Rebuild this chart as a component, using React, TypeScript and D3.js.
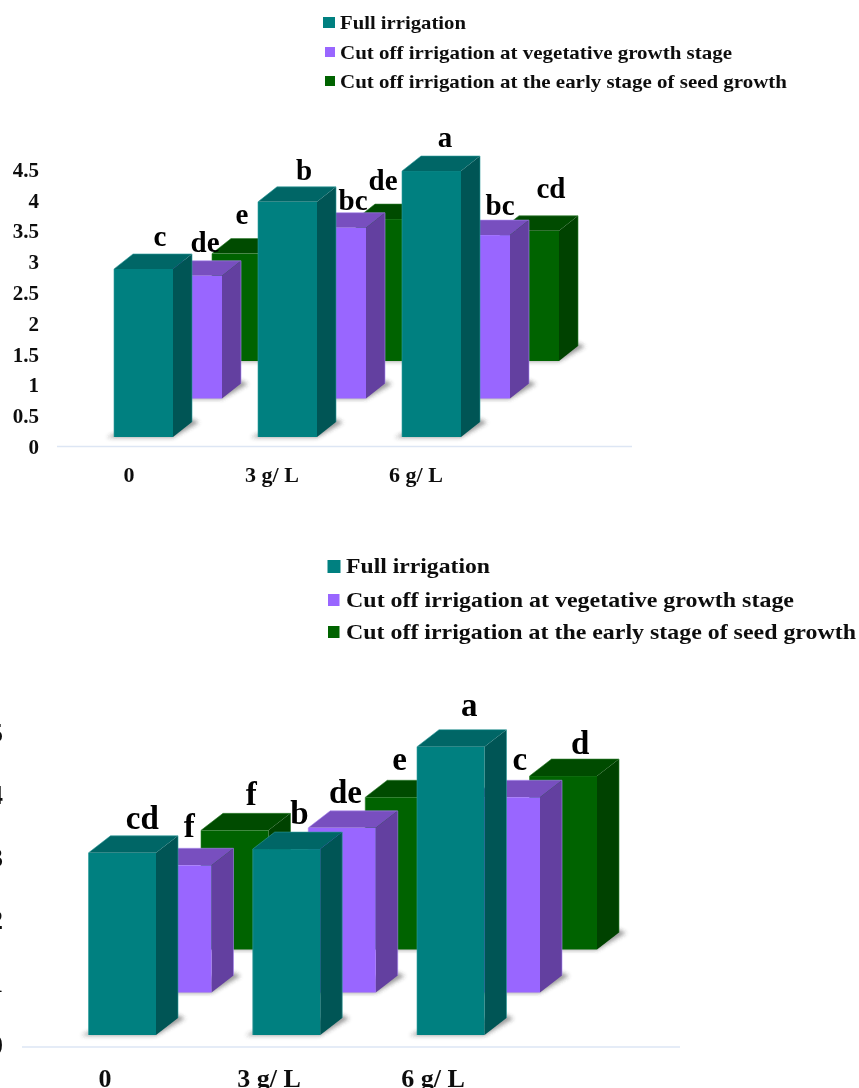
import React from "react";
import * as d3 from "d3";

const seriesNames = [
  "Full irrigation",
  "Cut off irrigation at vegetative growth stage",
  "Cut off irrigation at the early stage of seed growth",
];
const categories = ["0", "3 g/ L", "6 g/ L"];

const topTeal = [2.89, 3.98, 4.48];
const topPurple = [2.78, 3.56, 3.44];
const topGreen = [3.14, 3.7, 3.51];
const topLetters = [
  ["c", "b", "a"],
  ["de", "bc", "bc"],
  ["e", "de", "cd"],
];
const topTicks = [0, 0.5, 1, 1.5, 2, 2.5, 3, 3.5, 4, 4.5];

const bottomTeal = [3.08, 3.14, 4.78];
const bottomPurple = [2.88, 3.48, 3.97];
const bottomGreen = [3.44, 3.97, 4.31];
const bottomLetters = [
  ["cd", "b", "a"],
  ["f", "de", "c"],
  ["f", "e", "d"],
];
const bottomTicks = [0, 1, 2, 3, 4, 5];

const palette = [
  { front: "#008080", side: "#005555", top: "#006666", edge: "#2f9c9c" },
  { front: "#9966ff", side: "#633fa0", top: "#7850bf", edge: "#a98af0" },
  { front: "#006400", side: "#004300", top: "#004b00", edge: "#2d7d2d" },
];

const topLayout = {
  y: d3.scaleLinear().domain([0, 4.5]).range([447, 169.8]),
  x: d3.scaleLinear().domain([0, 2]).range([114, 402]),
  seriesOffset: [0, 49, 98],
  base: [437, 398.5, 361],
  barWidth: 59,
  depthX: 19,
  depthY: 15,
  letterSize: 29,
  nudges: [
    [[16.5, -23], [16.5, -22], [13.5, -24]],
    [[12.5, -24], [16.5, -18], [19.5, -20]],
    [[0.5, -30], [-2.5, -29], [21.5, -33]],
  ],
  axis: { x1: 57, x2: 632, y: 446.5 },
  tickX: 39,
  tickSize: 21,
  tickDy: 7,
  catX: [129, 272, 416],
  catY: 482,
  catSize: 22,
  legend: {
    swatch: [[323, 17, 12, 11], [325, 47, 10, 10], [325, 76, 10, 10]],
    textX: 340,
    baselines: [29, 59, 88],
    lengths: [126, 392, 447],
    size: 19,
  },
};

const bottomLayout = {
  y: d3.scaleLinear().domain([0, 5]).range([1045, 733]),
  x: d3.scaleLinear().domain([0, 2]).range([88.5, 417]),
  seriesOffset: [0, 55.5, 112.5],
  base: [1035, 992.5, 949.5],
  barWidth: 67.5,
  depthX: 22,
  depthY: 17,
  letterSize: 33,
  nudges: [
    [[20, -24], [13, -25], [18.5, -31]],
    [[11.5, -28], [3.5, -25], [13.5, -27]],
    [[16.5, -25], [0.5, -27], [17, -22]],
  ],
  axis: { x1: 22, x2: 680, y: 1047 },
  tickX: 3,
  tickSize: 27,
  tickDy: 9,
  catX: [105, 269, 433],
  catY: 1087,
  catSize: 26,
  legend: {
    swatch: [[327.5, 560, 13, 13], [328, 594, 11.5, 12], [328, 626, 11.5, 12]],
    textX: 346,
    baselines: [572.5, 606.5, 638.5],
    lengths: [144, 448, 510],
    size: 22,
  },
};

const FONT = "'Liberation Serif', 'Times New Roman', serif";
const poly = (pts: number[][]) => pts.map((p) => p.join(",")).join(" ");

function Bar3D({ left, width, topY, base, dx, dy, c }: any) {
  const right = left + width;
  const shadow = [
    [left - 7, base + 0.5],
    [right, base + 0.5],
    [right + dx + 7, base - dy + 0.5],
    [right + dx, base - dy - 3],
    [left, base - 3],
  ];
  return (
    <g>
      <polygon points={poly(shadow)} fill="#3a3a3a" opacity={0.5} filter="url(#shadowBlur)" />
      <polygon
        points={poly([[right, topY], [right + dx, topY - dy], [right + dx, base - dy], [right, base]])}
        fill={c.side}
      />
      <polygon
        points={poly([[left, topY], [left + dx, topY - dy], [right + dx, topY - dy], [right, topY]])}
        fill={c.top}
      />
      <rect x={left} y={topY} width={width} height={base - topY} fill={c.front} />
      <polyline
        points={poly([[left, base], [left, topY], [left + dx, topY - dy], [right + dx, topY - dy], [right + dx, base - dy]])}
        fill="none"
        stroke={c.edge}
        strokeWidth={0.6}
      />
    </g>
  );
}

function Chart({ series, letters, ticks, layout }: any) {
  const { y, x, seriesOffset, base, barWidth, depthX, depthY } = layout;
  const order = [2, 1, 0];
  return (
    <g fontFamily={FONT} fontWeight={700} fill="#000">
      {layout.legend.swatch.map((s: number[], i: number) => (
        <g key={i}>
          <rect x={s[0]} y={s[1]} width={s[2]} height={s[3]} fill={palette[i].front} />
          <text
            x={layout.legend.textX}
            y={layout.legend.baselines[i]}
            fontSize={layout.legend.size}
            fill="#111"
            textLength={layout.legend.lengths[i]}
            lengthAdjust="spacingAndGlyphs"
          >
            {seriesNames[i]}
          </text>
        </g>
      ))}
      {ticks.map((t: number) => (
        <text key={t} x={layout.tickX} y={y(t) + layout.tickDy} textAnchor="end" fontSize={layout.tickSize} fill="#111">
          {t}
        </text>
      ))}
      <line x1={layout.axis.x1} x2={layout.axis.x2} y1={layout.axis.y} y2={layout.axis.y} stroke="#dde6f4" strokeWidth={1.5} />
      {order.map((s) =>
        series[s].map((v: number, g: number) => (
          <Bar3D
            key={`${s}-${g}`}
            left={x(g) + seriesOffset[s]}
            width={barWidth}
            topY={y(v)}
            base={base[s]}
            dx={depthX}
            dy={depthY}
            c={palette[s]}
          />
        ))
      )}
      {order.map((s) =>
        series[s].map((v: number, g: number) => (
          <text
            key={`l-${s}-${g}`}
            x={x(g) + seriesOffset[s] + barWidth / 2 + layout.nudges[s][g][0]}
            y={y(v) + layout.nudges[s][g][1]}
            textAnchor="middle"
            fontSize={layout.letterSize}
          >
            {letters[s][g]}
          </text>
        ))
      )}
      {categories.map((c, i) => (
        <text key={c} x={layout.catX[i]} y={layout.catY} textAnchor="middle" fontSize={layout.catSize} fill="#111">
          {c}
        </text>
      ))}
    </g>
  );
}

export default function App() {
  return (
    <svg
      width={859}
      height={1088}
      viewBox="0 0 859 1088"
      style={{ position: "absolute", left: 0, top: 0, background: "#fff" }}
    >
      <defs>
        <filter id="shadowBlur" x="-20%" y="-100%" width="140%" height="300%">
          <feGaussianBlur stdDeviation={2} />
        </filter>
        <filter id="soft" x="0" y="0" width="859" height="1088" filterUnits="userSpaceOnUse">
          <feGaussianBlur stdDeviation={0.35} />
        </filter>
      </defs>
      <g filter="url(#soft)">
        <Chart series={[topTeal, topPurple, topGreen]} letters={topLetters} ticks={topTicks} layout={topLayout} />
        <Chart series={[bottomTeal, bottomPurple, bottomGreen]} letters={bottomLetters} ticks={bottomTicks} layout={bottomLayout} />
      </g>
    </svg>
  );
}
